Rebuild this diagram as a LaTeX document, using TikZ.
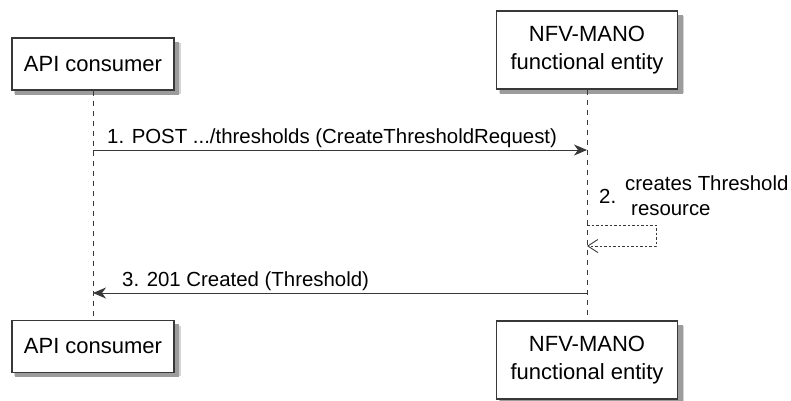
\documentclass[tikz,border=0pt]{standalone}
\usepackage{fontspec}
\setmainfont{Liberation Sans}
\usetikzlibrary{arrows.meta}
\definecolor{linegray}{HTML}{383838}
\definecolor{shadowgray}{HTML}{9C9C9C}
\definecolor{shadowlight}{HTML}{D4D4D4}
\pgfdeclarelayer{background}
\pgfsetlayers{background,main}
\tikzset{
  participant/.style={draw=linegray, line width=1.3pt, fill=white, align=center,
    inner sep=0pt, font=\fontsize{22}{28}\selectfont},
  lifeline/.style={draw=linegray, line width=0.9pt, dash pattern=on 5pt off 5pt},
  msg/.style={draw=linegray, line width=1pt, -{Stealth[length=13pt,width=11pt,inset=4pt]}},
  reply/.style={draw=linegray, line width=0.9pt, dash pattern=on 2.5pt off 2pt,
    -{Straight Barb[length=10pt,width=13pt,line width=0.9pt]}},
  lbl/.style={inner sep=0pt, font=\fontsize{20.4}{25}\selectfont}
}
\begin{document}
\begin{tikzpicture}[x=1pt,y=-1pt]
\useasboundingbox (0,0) rectangle (791,400);
% participants
\node[participant, minimum width=162pt, minimum height=52pt] (a1) at (93,64) {API consumer};
\node[participant, minimum width=181pt, minimum height=78pt] (b1) at (587,50) {NFV-MANO\\functional entity};
\node[participant, minimum width=162pt, minimum height=52pt] (a2) at (93,346.5) {API consumer};
\node[participant, minimum width=181pt, minimum height=78pt] (b2) at (587,360) {NFV-MANO\\functional entity};
% shadows
\begin{pgfonlayer}{background}
\foreach \n in {a1,b1,a2,b2}{
  \fill[shadowlight] ([xshift=3pt,yshift=-3pt]\n.south west) rectangle ([xshift=6pt,yshift=-6pt]\n.north east);
  \fill[shadowgray] ([xshift=4pt,yshift=-4pt]\n.south west) rectangle ([xshift=4.5pt,yshift=-4.5pt]\n.north east);
}
\end{pgfonlayer}
% lifelines
\draw[lifeline] (a1.south) -- (a2.north);
\draw[lifeline] (b1.south) -- (b2.north);
% message 1
\coordinate (m1) at (0,150);
\draw[msg] (a1 |- m1) -- (b1 |- m1);
\node[lbl, anchor=base west] (t1) at (107,143) {1. POST .../thresholds (CreateThresholdRequest)};
% message 2 (self)
\coordinate (m2a) at (0,225);
\coordinate (m2b) at (656,246);
\draw[reply] (b1 |- m2a) -- (m2b |- m2a) -- (m2b) -- (b1 |- m2b);
\node[lbl, anchor=base west] (t2n) at (599,203) {2.};
\node[lbl, anchor=base west, align=left] (t2) at (625,215.5) {creates Threshold\\\hspace{6pt}resource};
% message 3
\coordinate (m3) at (0,293);
\draw[msg] (b1 |- m3) -- (a1 |- m3);
\node[lbl, anchor=base west] (t3) at (122,286.5) {3. 201 Created (Threshold)};
\end{tikzpicture}
\end{document}
